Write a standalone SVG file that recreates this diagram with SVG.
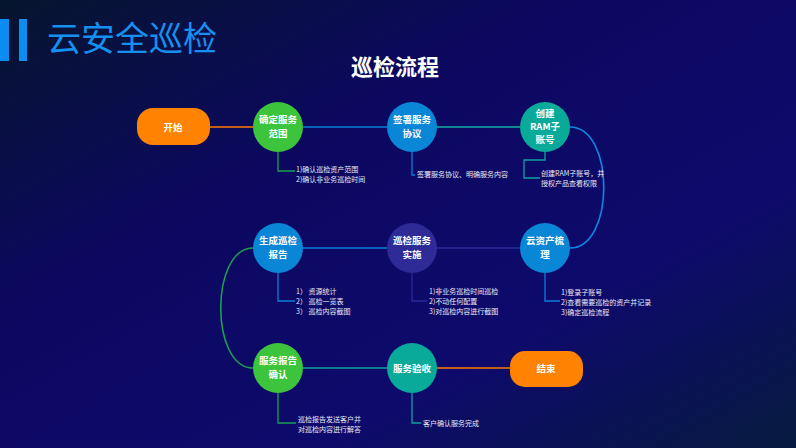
<svg xmlns="http://www.w3.org/2000/svg" width="796" height="448" viewBox="0 0 796 448">
<defs>
<linearGradient id="bg" x1="0" y1="0" x2="1" y2="1">
<stop offset="0" stop-color="#06152e"/>
<stop offset="0.35" stop-color="#0c0860"/>
<stop offset="0.7" stop-color="#0e0a6c"/>
<stop offset="1" stop-color="#061a3e"/>
</linearGradient>
<style>
text{font-family:"Noto Sans CJK SC","Liberation Sans",sans-serif}
.nl{fill:#fff;font-size:9.5px;font-weight:bold;text-anchor:middle}
.d{fill:#e8e8f4;font-size:7px}
.c{fill:none;stroke-width:1.6}
.ld{fill:none;stroke-width:1.3}
</style>
</defs>
<rect width="796" height="448" fill="url(#bg)"/>
<rect x="0" y="19" width="9" height="42" fill="#0a8cf0"/>
<rect x="19" y="19" width="8" height="42" fill="#0a8cf0"/>
<text x="47" y="51" font-size="34" fill="#1590f0">云安全巡检</text>
<text x="395" y="75" font-size="22" font-weight="bold" fill="#fff" text-anchor="middle">巡检流程</text>
<g id="connectors">
<line class="c" x1="210" y1="127" x2="253" y2="127" stroke="#ff7a00"/>
<line class="c" x1="303" y1="127" x2="387" y2="127" stroke="#0a7fd8"/>
<line class="c" x1="437" y1="127" x2="520" y2="127" stroke="#10b0a0"/>
<path class="c" d="M570,127 C615,127 615,248 570,248" stroke="#0a8ae0"/>
<line class="c" x1="520" y1="248" x2="437" y2="248" stroke="#2a2a9a"/>
<line class="c" x1="387" y1="248" x2="303" y2="248" stroke="#0a7fd8"/>
<path class="c" d="M253,248 C210,248 210,368 253,368" stroke="#1aa050"/>
<line class="c" x1="303" y1="368" x2="387" y2="368" stroke="#10a0a0"/>
<line class="c" x1="437" y1="368" x2="510" y2="368" stroke="#ff7a00"/>
<path class="ld" d="M278,152 V171 H295" stroke="#1aa050"/>
<path class="ld" d="M412,152 V175 H415" stroke="#0a7fd8"/>
<path class="ld" d="M545,152 V160 H524 V178 H540" stroke="#10a0a0"/>
<path class="ld" d="M278,273 V301 H295" stroke="#0a7fd8"/>
<path class="ld" d="M412,273 V301 H427" stroke="#2a2a9a"/>
<path class="ld" d="M545,273 V301 H560" stroke="#0a7fd8"/>
<path class="ld" d="M278,393 V423 H296" stroke="#1aa050"/>
<path class="ld" d="M412,393 V423 H421" stroke="#10a0a0"/>
</g>
<g id="start"><rect x="137" y="108" width="73" height="37" rx="16" fill="#ff8200"/><text class="nl" x="173" y="131">开始</text></g>
<g id="n1"><circle cx="278" cy="127" r="25" fill="#3cc43c"/><text class="nl" x="278" y="123">确定服务</text><text class="nl" x="278" y="137">范围</text>
<text class="d" x="296" y="172">1)确认巡检资产范围</text><text class="d" x="296" y="182">2)确认非业务巡检时间</text></g>
<g id="n2"><circle cx="412" cy="127" r="25" fill="#0a86d6"/><text class="nl" x="412" y="123">签署服务</text><text class="nl" x="412" y="137">协议</text>
<text class="d" x="417" y="177">签署服务协议、明确服务内容</text></g>
<g id="n3"><circle cx="545" cy="127" r="25" fill="#0aaa9a"/><text class="nl" x="545" y="117">创建</text><text class="nl" x="545" y="130">RAM子</text><text class="nl" x="545" y="143">账号</text>
<text class="d" x="541" y="176">创建RAM子账号，并</text><text class="d" x="541" y="186">授权产品查看权限</text></g>
<g id="n4"><circle cx="545" cy="248" r="25" fill="#0a86d6"/><text class="nl" x="545" y="244">云资产梳</text><text class="nl" x="545" y="258">理</text>
<text class="d" x="561" y="295">1)登录子账号</text><text class="d" x="561" y="305">2)查看需要巡检的资产并记录</text><text class="d" x="561" y="315">3)确定巡检流程</text></g>
<g id="n5"><circle cx="412" cy="248" r="25" fill="#2e2a96"/><text class="nl" x="412" y="244">巡检服务</text><text class="nl" x="412" y="258">实施</text>
<text class="d" x="429" y="294">1)非业务巡检时间巡检</text><text class="d" x="429" y="304">2)不动任何配置</text><text class="d" x="429" y="314">3)对巡检内容进行截图</text></g>
<g id="n6"><circle cx="278" cy="248" r="25" fill="#0a86d6"/><text class="nl" x="278" y="244">生成巡检</text><text class="nl" x="278" y="258">报告</text>
<text class="d" x="296" y="294">1） 资源统计</text><text class="d" x="296" y="304">2） 巡检一览表</text><text class="d" x="296" y="314">3） 巡检内容截图</text></g>
<g id="n7"><circle cx="278" cy="368" r="25" fill="#3cc43c"/><text class="nl" x="278" y="364">服务报告</text><text class="nl" x="278" y="378">确认</text>
<text class="d" x="298" y="422">巡检报告发送客户并</text><text class="d" x="298" y="432">对巡检内容进行解答</text></g>
<g id="n8"><circle cx="412" cy="368" r="25" fill="#0aaa9a"/><text class="nl" x="412" y="372">服务验收</text>
<text class="d" x="423" y="426">客户确认服务完成</text></g>
<g id="end"><rect x="510" y="351" width="73" height="36" rx="15" fill="#ff8200"/><text class="nl" x="546" y="372">结束</text></g>
</svg>
